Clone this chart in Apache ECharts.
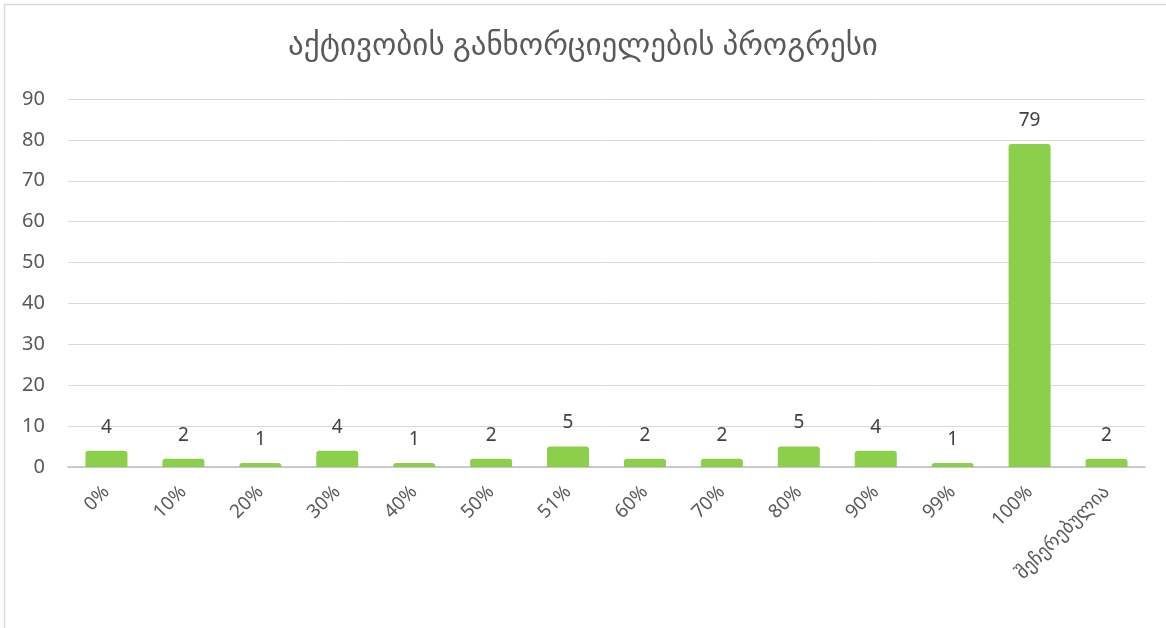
<!DOCTYPE html>
<html>
<head>
<meta charset="utf-8">
<script src="https://cdn.jsdelivr.net/npm/echarts@6/dist/echarts.min.js"></script>
<style>
html,body{margin:0;padding:0;background:#fff;}
#chart{width:1166px;height:628px;}
</style>
</head>
<body>
<div id="chart"></div>
<script>
const titleText = 'აქტივობის განხორციელების პროგრესი';
const categories = ['0%','10%','20%','30%','40%','50%','51%','60%','70%','80%','90%','99%','100%','შეჩერებულია'];
const values = [4,2,1,4,1,2,5,2,2,5,4,1,79,2];
const yMin = 0, yMax = 90, yStep = 10;

const FONT = '"Noto Sans", "DejaVu Sans", sans-serif';
const chart = echarts.init(document.getElementById('chart'));
chart.setOption({
  backgroundColor: '#fff',
  animation: false,
  title: {
    text: titleText,
    left: 'center',
    top: 26,
    textStyle: {color: '#595959', fontSize: 31, fontWeight: 'normal', fontFamily: FONT}
  },
  graphic: [{
    type: 'rect',
    shape: {x: 4.5, y: 4.5, width: 1180, height: 640},
    style: {fill: 'none', stroke: '#d9d9d9', lineWidth: 1.5},
    silent: true
  }],
  grid: {left: 68, right: 21, top: 99, bottom: 161, containLabel: false},
  xAxis: {
    type: 'category',
    data: categories,
    axisLine: {lineStyle: {color: '#bfbfbf', width: 1.5}},
    axisTick: {show: false},
    axisLabel: {rotate: 45, color: '#595959', fontSize: 19, fontFamily: FONT, margin: 22, interval: 0}
  },
  yAxis: {
    type: 'value',
    min: yMin, max: yMax, interval: yStep,
    axisLine: {show: false},
    axisTick: {show: false},
    splitLine: {lineStyle: {color: '#d9d9d9', width: 1}},
    axisLabel: {color: '#595959', fontSize: 20, fontFamily: FONT, margin: 23}
  },
  series: [{
    type: 'bar',
    data: values,
    barWidth: 42,
    itemStyle: {color: '#8ccf4a', borderRadius: [3,3,0,0]},
    label: {show: true, position: 'top', distance: 14, color: '#404040', fontSize: 19, fontFamily: FONT}
  }]
});
</script>
</body>
</html>
